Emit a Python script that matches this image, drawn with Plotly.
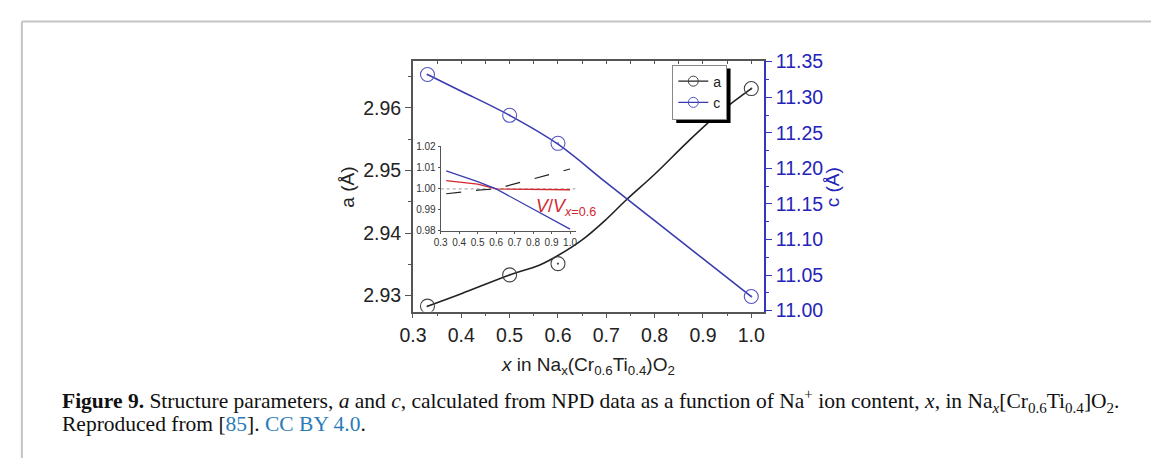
import plotly.graph_objects as go

W, H = 1153, 468


def px(x):
    return x / W


def py(y):
    return 1 - y / H


# ---------------- data ----------------
x_pts = [0.33, 0.5, 0.6, 1.0]
a_pts = [2.9283, 2.9333, 2.9351, 2.9631]
c_pts = [11.3320, 11.2746, 11.2352, 11.0198]

a_fit_x = [0.33, 0.40, 0.50, 0.56, 0.60, 0.65, 0.70, 0.74, 0.80, 0.87, 0.94, 1.00]
a_fit_y = [2.9283, 2.9303, 2.9333, 2.9348, 2.9364, 2.9389, 2.9422, 2.9452,
           2.9494, 2.9547, 2.9596, 2.9631]

c_fit_x = [0.33, 0.40, 0.50, 0.60, 0.70, 0.80, 0.90, 1.00]
c_fit_y = [11.3320, 11.3085, 11.2745, 11.2340, 11.1800, 11.1265, 11.0730, 11.0195]

ins_x = [0.33, 0.5, 0.6, 1.0]
ins_a = [0.9977, 0.9994, 1.0000, 1.0095]
ins_c = [1.0086, 1.0035, 1.0000, 0.9808]
ins_v = [1.0040, 1.0023, 1.0000, 0.9996]

x_ticks = [0.3, 0.4, 0.5, 0.6, 0.7, 0.8, 0.9, 1.0]
ins_y_ticks = [0.98, 0.99, 1.00, 1.01, 1.02]

# ---------------- style ----------------
BLACK = "#222222"
BLUE = "#3b3bb0"
BLUE_AX = "#3535c4"
BLUE_TXT = "#2424b8"
RED = "#d2282e"
AXC = "#555555"
SANS = "Liberation Sans, Arial, sans-serif"
SERIF = "Liberation Serif, Times New Roman, serif"
LEG_FONT = 14
LEG_LEFT, LEG_TOP = 668, 57          # pixels
LEG_W, LEG_H = 55, 57                # approx. size plotly gives this two-entry legend

fig = go.Figure()

# main fits
fig.add_trace(go.Scatter(x=a_fit_x, y=a_fit_y, mode="lines", line=dict(color=BLACK, width=1.6, shape="spline"),
                         showlegend=False, xaxis="x", yaxis="y", hoverinfo="skip"))
fig.add_trace(go.Scatter(x=c_fit_x, y=c_fit_y, mode="lines", line=dict(color=BLUE, width=1.6, shape="spline"),
                         showlegend=False, xaxis="x", yaxis="y2", hoverinfo="skip"))
# markers
fig.add_trace(go.Scatter(x=x_pts, y=a_pts, mode="markers",
                         marker=dict(symbol="circle-open-dot", size=14, color="#444444", line=dict(width=1.1)),
                         showlegend=False, xaxis="x", yaxis="y"))
fig.add_trace(go.Scatter(x=x_pts, y=c_pts, mode="markers",
                         marker=dict(symbol="circle-open-dot", size=14, color="#5555c4", line=dict(width=1.1)),
                         showlegend=False, xaxis="x", yaxis="y2"))
# legend entries
fig.add_trace(go.Scatter(x=[None], y=[None], mode="lines+markers", name="a",
                         line=dict(color=BLACK, width=1.3),
                         marker=dict(symbol="circle-open", size=10, color="#444444", line=dict(width=1)),
                         xaxis="x", yaxis="y"))
fig.add_trace(go.Scatter(x=[None], y=[None], mode="lines+markers", name="c",
                         line=dict(color=BLUE, width=1.3),
                         marker=dict(symbol="circle-open", size=10, color="#5555c4", line=dict(width=1)),
                         xaxis="x", yaxis="y2"))
# top mirror axis anchor trace
fig.add_trace(go.Scatter(x=[None], y=[None], showlegend=False, xaxis="x2", yaxis="y"))

# inset
fig.add_trace(go.Scatter(x=ins_x, y=ins_a, mode="lines", line=dict(color=BLACK, width=1.2, dash="longdash"),
                         showlegend=False, xaxis="x3", yaxis="y3"))
fig.add_trace(go.Scatter(x=ins_x, y=ins_v, mode="lines", line=dict(color=RED, width=1.3),
                         showlegend=False, xaxis="x3", yaxis="y3"))
fig.add_trace(go.Scatter(x=ins_x, y=ins_c, mode="lines", line=dict(color=BLUE, width=1.3),
                         showlegend=False, xaxis="x3", yaxis="y3"))

x_dom = [px(405), px(761)]
y_dom = [py(315), py(53)]
TICKF = 19.5

fig.update_layout(
    width=W, height=H,
    margin=dict(l=0, r=0, t=0, b=0),
    paper_bgcolor="white", plot_bgcolor="rgba(0,0,0,0)",
    font=dict(family=SANS, color="#222222"),
    xaxis=dict(domain=x_dom, range=[0.2995, 1.0265], anchor="y",
               tickvals=x_ticks, tickformat=".1f", ticks="outside", ticklen=5, tickwidth=1.2,
               tickcolor=AXC, showline=True, linecolor=AXC, linewidth=1.5,
               minor=dict(dtick=0.05, tick0=0.3, ticks="outside", ticklen=3, tickcolor=AXC),
               showgrid=False, zeroline=False, tickfont=dict(size=TICKF, color="#222")),
    xaxis2=dict(domain=x_dom, range=[0.2995, 1.0265], anchor="y", overlaying="x", side="top",
                dtick=0.05, tick0=0.3, ticks="inside", ticklen=4, tickcolor=AXC,
                showticklabels=False, showline=True, linecolor=AXC, linewidth=1.5,
                showgrid=False, zeroline=False),
    yaxis=dict(domain=y_dom, range=[2.92744, 2.96755], anchor="x",
               dtick=0.01, tick0=2.93, tickformat=".2f", ticks="outside", ticklen=6, tickwidth=1.2,
               tickcolor=AXC, showline=True, linecolor=AXC, linewidth=1.5,
               minor=dict(dtick=0.005, tick0=2.93, ticks="outside", ticklen=3, tickcolor=AXC),
               showgrid=False, zeroline=False, tickfont=dict(size=TICKF, color="#222")),
    yaxis2=dict(domain=y_dom, range=[10.9987, 11.3513], anchor="x", overlaying="y", side="right",
                dtick=0.05, tick0=11.0, tickformat=".2f", ticks="outside", ticklen=6, tickwidth=1.2,
                tickcolor=BLUE_AX, showline=True, linecolor=BLUE_AX, linewidth=1.5,
                minor=dict(dtick=0.025, tick0=11.0, ticks="outside", ticklen=3, tickcolor=BLUE_AX),
                showgrid=False, zeroline=False, tickfont=dict(size=TICKF, color=BLUE_TXT)),
    xaxis3=dict(domain=[px(433.3), px(570)], range=[0.3, 1.03], anchor="y3",
                tickvals=x_ticks, tickformat=".1f", ticks="outside", ticklen=2, tickcolor=AXC,
                showline=True, linecolor=AXC, linewidth=1, showgrid=False, zeroline=False,
                tickfont=dict(size=10, color="#333")),
    yaxis3=dict(domain=[py(230.7), py(142)], range=[0.98, 1.0205], anchor="x3",
                tickvals=ins_y_ticks, tickformat=".2f", ticks="outside", ticklen=2,
                tickcolor=AXC, showline=True, linecolor=AXC, linewidth=1, showgrid=False, zeroline=False,
                tickfont=dict(size=10, color="#333")),
    legend=dict(x=px(LEG_LEFT), y=py(LEG_TOP), xanchor="left", yanchor="top", bgcolor="white",
                bordercolor="#888888", borderwidth=1, font=dict(size=LEG_FONT, color="#222"),
                tracegroupgap=0, itemwidth=30),
    showlegend=True,
)

shapes = [
    # page border
    dict(type="line", xref="paper", yref="paper", x0=px(9), x1=1, y0=py(12), y1=py(12),
         line=dict(color="#c4c4c4", width=2)),
    dict(type="line", xref="paper", yref="paper", x0=px(9), x1=px(9), y0=py(12), y1=0,
         line=dict(color="#c4c4c4", width=2)),
    # legend drop shadow (the legend box itself is drawn above shapes)
    dict(type="rect", xref="paper", yref="paper",
         x0=px(LEG_LEFT + 4), x1=px(LEG_LEFT + LEG_W + 4),
         y0=py(LEG_TOP + LEG_H + 4), y1=py(LEG_TOP + 4),
         fillcolor="black", line=dict(width=0), layer="above"),
    # inset reference line at 1.00
    dict(type="line", xref="x3", yref="y3", x0=0.3, x1=1.03, y0=1.0, y1=1.0,
         line=dict(color="#9a9a9a", width=1, dash="dot"), layer="below"),
]
fig.update_layout(shapes=shapes)

annotations = [
    dict(text="a (Å)", x=px(339), y=py(185), xref="paper", yref="paper", showarrow=False,
         xanchor="center", yanchor="middle",
         textangle=-90, font=dict(size=19, color="#222", family=SANS)),
    dict(text="c (Å)", x=px(830), y=py(185), xref="paper", yref="paper", showarrow=False,
         xanchor="center", yanchor="middle",
         textangle=-90, font=dict(size=19, color=BLUE_TXT, family=SANS)),
    dict(text="<i>x</i> in Na<sub>x</sub>(Cr<sub>0.6</sub>Ti<sub>0.4</sub>)O<sub>2</sub>",
         x=px(583), y=py(372), xref="paper", yref="paper", showarrow=False,
         xanchor="center", yanchor="middle",
         font=dict(size=19, color="#222", family=SANS)),
    dict(text="<i>V</i>/<i>V</i><sub><i>x</i>=0.6</sub>", x=px(528), y=py(206), xref="paper", yref="paper",
         xanchor="left", yanchor="middle", showarrow=False, font=dict(size=18, color=RED, family=SANS)),
    dict(text="<b>Figure 9.</b> Structure parameters, <i>a</i> and <i>c</i>, calculated from NPD data as a "
              "function of Na<sup>+</sup> ion content, <i>x</i>, in Na<sub><i>x</i></sub>[Cr<sub>0.6</sub>"
              "Ti<sub>0.4</sub>]O<sub>2</sub>.",
         x=px(48), y=py(408), xref="paper", yref="paper", xanchor="left", yanchor="middle",
         showarrow=False, font=dict(size=21.5, color="#111", family=SERIF)),
    dict(text="Reproduced from [<span style='color:#2b7bb9'>85</span>]. "
              "<span style='color:#2b7bb9'>CC BY 4.0</span>.",
         x=px(48), y=py(432), xref="paper", yref="paper", xanchor="left", yanchor="middle",
         showarrow=False, font=dict(size=21.5, color="#111", family=SERIF)),
]
fig.update_layout(annotations=annotations)

fig.write_html("out.html")
